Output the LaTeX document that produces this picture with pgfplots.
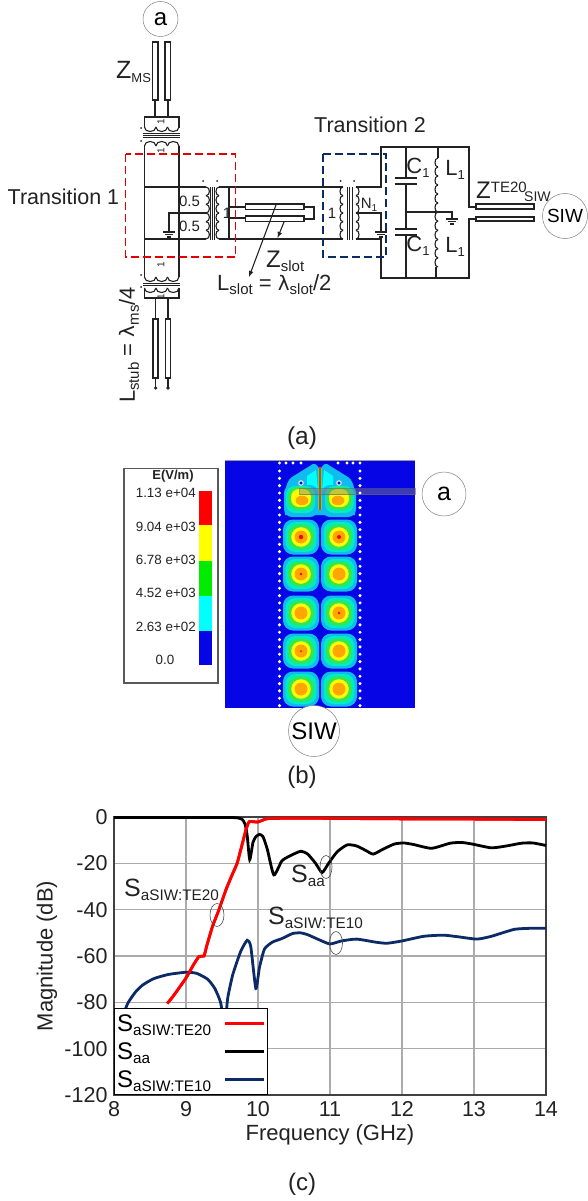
\documentclass[border=0pt]{standalone}
\usepackage{pgfplots}
\usepackage{pgfplotstable}
\usepackage{fontspec}
\setmainfont{Liberation Sans}
\pgfplotsset{compat=1.18}
\newcommand\fs[1]{\fontsize{#1}{#1}\selectfont}
\newcommand\SUB[3]{{\fs{#1}#2}\raisebox{-4pt}{\fs{15.3}#3}}
\definecolor{nvy}{HTML}{0B2A66}
\definecolor{ink}{HTML}{222222}
\pgfplotstableread{
x y
8.74 -80.5
8.83 -77
9.00 -69.5
9.10 -64
9.18 -60.2
9.25 -60
9.29 -55.4
9.37 -47
9.44 -41.5
9.48 -38
9.56 -31
9.64 -25
9.71 -20
9.77 -13
9.83 -5.8
9.86 -3
9.88 -2
9.93 -2
9.99 -2.2
10.05 -1.6
10.13 -0.7
10.5 -0.5
11 -0.6
12 -0.8
13 -0.9
14 -1.1
}\tred
\pgfplotstableread{
x y
8 -0.2
9 -0.2
9.6 -0.2
9.72 -0.4
9.78 -1
9.82 -3
9.85 -8
9.885 -18.4
9.93 -11
9.97 -8.5
10.02 -7.5
10.07 -8.5
10.13 -14
10.22 -25
10.33 -19
10.43 -17
10.59 -14.8
10.69 -16
10.8 -20
10.89 -24
10.98 -20
11.1 -15
11.24 -12
11.37 -12.5
11.5 -14.5
11.6 -16
11.73 -14
11.89 -11.7
12.02 -11.2
12.15 -11.8
12.41 -13.5
12.67 -11.3
12.83 -11
12.98 -11.7
13.24 -13.3
13.45 -12.5
13.66 -11.3
13.82 -11.2
14 -12.3
}\tblack
\pgfplotstableread{
x y
8.1 -88
8.19 -80.5
8.3 -75.5
8.4 -72.5
8.55 -69.8
8.75 -68
9.0 -67
9.15 -67.5
9.3 -70
9.4 -74
9.48 -80
9.52 -88
9.54 -95
9.56 -85
9.58 -78
9.65 -68
9.76 -58
9.85 -53.2
9.9 -56
9.97 -74
10.02 -65
10.09 -57
10.2 -54
10.33 -52.5
10.48 -50.3
10.59 -50
10.69 -50.8
10.85 -53
11 -54.8
11.16 -53.5
11.37 -52.7
11.63 -54
11.79 -54.5
12 -53.5
12.3 -51.5
12.57 -51
12.78 -51.7
13.04 -52.7
13.24 -51.5
13.56 -48.5
13.82 -48
14 -48
}\tblue
% schematic helpers
\newcommand\hcoil[5]{\pgfmathsetmacro\dd{(#2-#1)/#4}\foreach \i in {1,...,#4}{\pgfmathsetmacro\aa{#1+(\i-1)*\dd}\pgfmathsetmacro\ee{\aa+\dd}\draw (\aa,#3) .. controls (\aa,#3+#5) and (\ee,#3+#5) .. (\ee,#3);}}
\newcommand\vcoil[5]{\pgfmathsetmacro\dd{(#2-#1)/#4}\foreach \i in {1,...,#4}{\pgfmathsetmacro\aa{#1+(\i-1)*\dd}\pgfmathsetmacro\ee{\aa+\dd}\draw (#3,\aa) .. controls (#3+#5,\aa) and (#3+#5,\ee) .. (#3,\ee);}}
\newcommand\gnd[2]{\draw (#1-6,#2) -- (#1+6,#2) (#1-4,#2+2.5) -- (#1+4,#2+2.5) (#1-2,#2+5) -- (#1+2,#2+5);}
\newcommand\cell[2]{%
\fill[cell1,rounded corners=10pt] (#1-18,#2-17.5) rectangle (#1+18,#2+17.5);
\fill[cell2,rounded corners=10pt] (#1-15.5,#2-15) rectangle (#1+15.5,#2+15);
\fill[cell3,rounded corners=10pt] (#1-13,#2-12.5) rectangle (#1+13,#2+12.5);
\fill[cell4] (#1,#2) circle (9.8);
\fill[cell5] (#1,#2) circle (6.5);}
\definecolor{cell1}{HTML}{10BCEE}
\definecolor{cell2}{HTML}{00EBC8}
\definecolor{cell3}{HTML}{30E850}
\definecolor{cell4}{HTML}{FFFF00}
\definecolor{cell5}{HTML}{FFA500}
\definecolor{fieldblue}{HTML}{0505E6}
\definecolor{pred}{RGB}{255,0,0}
\definecolor{pyellow}{RGB}{255,255,0}
\definecolor{pgreen}{RGB}{0,235,0}
\definecolor{pcyan}{RGB}{0,255,255}
\begin{document}
\begin{tikzpicture}
\useasboundingbox (0pt,0pt) rectangle (588pt,-1201pt);
%% ---------- (c) chart
\begin{axis}[at={(114pt,-1095pt)},anchor=south west,scale only axis,width=432pt,height=278pt,
 xmin=8,xmax=14,ymin=-120,ymax=0,clip=false,
 xtick={8,...,14},ytick={-120,-100,...,0},
 grid=major,major grid style={color=black!33,line width=1.4pt},
 major tick length=0pt,
 axis line style={color=black!75,line width=2.4pt},
 /pgf/number format/assume math mode=true,
 /pgf/number format/1000 sep={},
 ticklabel style={font=\fs{21.5},color=ink},
 xticklabel style={yshift=-3pt},yticklabel style={xshift=-3pt},
 xlabel={Frequency (GHz)},ylabel={Magnitude (dB)},
 every axis x label/.style={at={(rel axis cs:0.5,0)},yshift=-40pt,anchor=center,font=\fs{22},color=ink},
 every axis y label/.style={at={(rel axis cs:0,0.5)},xshift=-67pt,rotate=90,anchor=center,font=\fs{22},color=ink},
 legend plot pos=right,
 legend cell align=left,
 legend style={at={(rel axis cs:0,0)},anchor=south west,draw=black,line width=1.4pt,fill=white,
   font=\fs{24},inner xsep=2pt,inner ysep=1pt,row sep=0pt,
   nodes={inner sep=0.5pt,text height=22pt,text depth=5pt,text width=106pt,align=left}},
 legend image code/.code={\draw[#1,line width=2.6pt] (0pt,0pt) -- (39pt,0pt);},
]
\addplot[draw=red,line width=2.8pt,smooth,tension=0.25] table[x=x,y=y] {\tred};
\addlegendentry{\SUB{24}{S}{aSIW:TE20}}
\addplot[draw=black,line width=2.8pt,smooth,tension=0.35] table[x=x,y=y] {\tblack};
\addlegendentry{\SUB{24}{S}{aa}}
\addplot[draw=nvy,line width=2.8pt,smooth,tension=0.35] table[x=x,y=y] {\tblue};
\addlegendentry{\SUB{24}{S}{aSIW:TE10}}
\addplot[draw=red,line width=2.8pt,smooth,tension=0.25,forget plot] table[x=x,y=y] {\tred};
\end{axis}
\begin{scope}[x=1pt,y=-1pt]
\node[anchor=west,inner sep=0,color=ink] at (124,890) {\SUB{25}{S}{aSIW:TE20}};
\node[anchor=west,inner sep=0,color=ink] at (291,876) {\SUB{25}{S}{aa}};
\node[anchor=west,inner sep=0,color=ink] at (268,918) {\SUB{25}{S}{aSIW:TE10}};
\draw[black!70,line width=0.6pt] (217,915) ellipse [x radius=7,y radius=11.5];
\draw[black!70,line width=0.6pt] (326,867) ellipse [x radius=6,y radius=11.5];
\draw[black!70,line width=0.6pt] (336,943) ellipse [x radius=6.5,y radius=11.5];
\node[color=ink,font=\fs{24}] at (302,1184) {(c)};
%% ---------- (b) field
\node[color=ink,font=\fs{24}] at (302,777) {(b)};
\draw[black!65,line width=1.5pt] (124,468.5) rectangle (218,683);
\node[font=\bfseries\fs{13},color=ink] at (173,476) {E(V/m)};
\foreach \yy/\tt in {493/1.13 e+04,527/9.04 e+03,560/6.78 e+03,593/4.52 e+03,627/2.63 e+02}{\node[anchor=east,inner sep=0,font=\fs{13.4},color=ink] at (196,\yy) {\tt};}
\node[font=\fs{13.4},color=ink] at (165,660) {0.0};
\fill[pred] (199,491) rectangle (212,525);
\fill[pyellow] (199,525) rectangle (212,561);
\fill[pgreen] (199,561) rectangle (212,596);
\fill[pcyan] (199,596) rectangle (212,631);
\fill[fieldblue] (199,631) rectangle (212,665);
\fill[fieldblue] (225,460) rectangle (415,708);
\draw[black!40,line width=0.7pt] (225,460) -- (415,460);
% top of the field
\fill[cell1] (285,495) .. controls (286,484) and (288,480) .. (292,477) -- (313,464) .. controls (316,463) and (318,467) .. (319,468) -- (321,468) .. controls (322,467) and (324,463) .. (327,464) -- (348,477) .. controls (352,480) and (354,484) .. (355,495) -- (355,515) -- (285,515) -- cycle;
\fill[pcyan] (307,476) -- (316,470) -- (318,490) -- (307,490) -- cycle;
\fill[pcyan] (333,476) -- (324,470) -- (322,490) -- (333,490) -- cycle;
\fill[cell1,rounded corners=8pt] (284,485) rectangle (318,517);
\fill[cell1,rounded corners=8pt] (322,485) rectangle (356,517);
\fill[cell2,rounded corners=9pt] (286,486) rectangle (315,513);
\fill[cell2,rounded corners=9pt] (325,486) rectangle (354,513);
\fill[cell3,rounded corners=9pt] (288,487) rectangle (313,510);
\fill[cell3,rounded corners=9pt] (327,487) rectangle (352,510);
\fill[cell4,rounded corners=8pt] (291,489) rectangle (311,507);
\fill[cell4,rounded corners=8pt] (329,489) rectangle (349,507);
\fill[cell5] (302,500.5) ellipse [x radius=6.5,y radius=4.8];
\fill[cell5] (338,500.5) ellipse [x radius=6.5,y radius=4.8];
\foreach \yy in {537,574,613,651,689}{\cell{301}{\yy}\cell{339}{\yy}}
\fill[pred] (339,537) circle (2); \fill[pred] (301,537) circle (2.2);
\fill[pred] (301,574) circle (1.3); \fill[pred] (339,613) circle (1.3); \fill[pred] (301,651) circle (1);
\draw[pcyan!50!green,line width=3.2pt] (320,469) -- (320,510);
\draw[red!60!orange,line width=1.6pt] (320,467) -- (320,510);
\fill[black!50,opacity=0.45] (299.5,488.5) rectangle (415,494.5);
\draw[black!60,line width=0.5pt,opacity=0.6] (299.5,488.5) rectangle (415,494.5);
\foreach \xx in {279.5,286,293,301,338,347,353,360}{\fill[white] (\xx,463) circle (1.7);}
\foreach \nn in {0,...,32}{\fill[white] (279.5,471+\nn*7.33) circle (1.7);\fill[white] (360,471+\nn*7.33) circle (1.7);}
\draw[white,line width=1pt,fill=fieldblue] (301,483) circle (2.2);
\draw[white,line width=1pt,fill=fieldblue] (339,483) circle (2.2);
\draw[black!50,line width=0.5pt,fill=white] (444,494) circle (22);
\node[font=\fs{25}] at (444,494) {a};
\draw[black!50,line width=0.5pt,fill=white] (314,731) circle (25.5);
\node[font=\fs{24}] at (314,731) {SIW};
%% ---------- (a) schematic
\node[color=ink,font=\fs{24.5}] at (302,438) {(a)};
\draw[black!50,line width=0.5pt] (160.5,19) circle (17.5);
\node[font=\fs{24}] at (160.5,19) {a};
\begin{scope}[line width=1.1pt,color=ink]
% top stub
\draw (152.6,42) rectangle (158,100) (165,42) rectangle (170.6,100);
\draw (155,100) -- (155,117) (168,100) -- (168,117);
\draw (144.4,128) -- (144.4,117) -- (179,117) -- (179,128);
\hcoil{144.4}{179}{127}{3}{6}
\draw[line width=0.8pt] (143,133) -- (180,133) (143,135) -- (180,135) (143,137) -- (180,137);
\hcoil{144.4}{179}{146}{3}{-6}
\draw (144.4,146) -- (144.4,277) (179,146) -- (179,277);
% bottom transformer
\hcoil{144.4}{179}{277}{3}{6}
\draw[line width=0.8pt] (143,283) -- (180,283) (143,285) -- (180,285);
\hcoil{144.4}{179}{288}{3}{6}
\draw (144.4,288) -- (144.4,298) -- (179,298) -- (179,288);
\draw (155.6,298) -- (155.6,319) (168,298) -- (168,319);
\draw (153,319) rectangle (158,378) (165.5,319) rectangle (170.5,378);
\draw (155.6,378) -- (155.6,388) (168,378) -- (168,388);
\fill (155.6,388) circle (1.8) (168,388) circle (1.8);
% horizontal bus and middle transformer
\draw (144.4,187) -- (206,187) (144.4,239) -- (206,239);
\draw (169,232) -- (169,213) -- (206,213);
\gnd{169}{232}
\fill (179,187) circle (1.4) (179,213) circle (1.4) (179,239) circle (1.4);
\vcoil{187}{213}{206}{3}{4.5}
\vcoil{213}{239}{206}{3}{4.5}
\draw[line width=0.8pt] (210.5,187) -- (210.5,240) (212.5,187) -- (212.5,240) (214.5,187) -- (214.5,240);
\vcoil{187}{239}{219}{6}{-4}
\draw (219,187) -- (328,187) (219,239) -- (328,239);
\draw (229,187) -- (229,239);
\draw (229,207) -- (245.6,207) (229,218) -- (245.6,218);
\draw (245.6,204) rectangle (304,209.3) (245.6,216) rectangle (304,221.7);
\draw (304,207) -- (314,207) -- (314,219) -- (304,219);
% right transformer
\vcoil{187}{239}{343}{6}{-4}
\draw (328,187) -- (343,187) (328,239) -- (343,239);
\draw[line width=0.8pt] (347,187) -- (347,240) (349.5,187) -- (349.5,240) (352,187) -- (352,240);
\vcoil{187}{239}{356}{6}{4}
\draw (356,187) -- (381,187) -- (381,147) -- (469,147) -- (469,207) -- (476,207);
\draw (356,239) -- (381,239) -- (381,278) -- (469,278) -- (469,219) -- (476,219);
\draw (356,213) -- (381,213) -- (381,232);
\gnd{381}{232}
% LC
\draw (406,147) -- (406,178) (394.5,178) -- (417,178) (394.5,184) -- (417,184) (406,184) -- (406,212);
\draw (406,212) -- (452,212) -- (452,219);
\gnd{452}{219}
\draw (406,212) -- (406,229) (394.5,229) -- (417,229) (394.5,235) -- (417,235) (406,235) -- (406,278);
\draw (438,147) -- (438,158);
\vcoil{158}{212}{438}{6}{-4}
\vcoil{212}{267}{438}{6}{-4}
\draw (436,267) -- (436,278);
\draw (476,204) rectangle (534,209) (476,217) rectangle (534,221);
% arrows
\draw[-latex] (276,205) -- (249,277);
\draw[-latex] (284,222) -- (277.5,238);
\end{scope}
\draw[red!90!black,line width=1.2pt,dash pattern=on 8pt off 4pt] (125.6,154) rectangle (235.5,257);
\draw[nvy,line width=1.2pt,dash pattern=on 8pt off 4pt] (323,154) rectangle (386,257);
\foreach \xx/\yy in {141/128,141/141,141/275,141/287,203/181,217/181,340.5/181,354/181}{\fill[ink] (\xx,\yy) circle (1);}
\foreach \xx/\yy in {161/122,161/151,161/265,161/297}{\node[rotate=90,font=\fs{10},color=ink,inner sep=0] at (\xx,\yy) {1};}
\node[anchor=west,inner sep=0,color=ink] at (116,72) {\fs{25}Z\raisebox{-4pt}{\fs{13}MS}};
\node[anchor=west,inner sep=0,font=\fs{21.5},color=ink] at (7.5,197) {Transition 1};
\node[anchor=west,inner sep=0,font=\fs{21.5},color=ink] at (314,125) {Transition 2};
\node[font=\fs{15},color=ink,inner sep=0] at (189.5,201) {0.5};
\node[font=\fs{15},color=ink,inner sep=0] at (189.5,226) {0.5};
\node[font=\fs{15},color=ink,inner sep=0] at (227,213) {1};
\node[font=\fs{15},color=ink,inner sep=0] at (332,213) {1};
\node[color=ink,inner sep=0] at (369,205) {\fs{15}N\raisebox{-3pt}{\fs{10}1}};
\node[color=ink,inner sep=0] at (418,168) {\fs{22}C\raisebox{-4pt}{\fs{13}1}};
\node[color=ink,inner sep=0] at (455,170) {\fs{22}L\raisebox{-4pt}{\fs{13}1}};
\node[color=ink,inner sep=0] at (418,246) {\fs{22}C\raisebox{-4pt}{\fs{13}1}};
\node[color=ink,inner sep=0] at (455,247) {\fs{22}L\raisebox{-4pt}{\fs{13}1}};
\node[anchor=west,inner sep=0,color=ink] at (476,190) {\fs{24}Z\raisebox{6pt}{\fs{15}TE20}};
\node[anchor=west,inner sep=0,color=ink] at (524,197) {\fs{14}SIW};
\draw[black!50,line width=0.5pt,fill=white] (565,216) circle (22.5);
\node[font=\fs{19}] at (565,216) {SIW};
\node[anchor=west,inner sep=0,color=ink] at (266,261) {\fs{24}Z\raisebox{-4pt}{\fs{15}slot}};
\node[anchor=west,inner sep=0,color=ink] at (217,285) {\fs{22}L\raisebox{-4pt}{\fs{15}slot}\fs{22} = \fontspec{DejaVu Sans}\fs{20}λ\raisebox{-4pt}{\fontspec{Liberation Sans}\fs{15}slot}\fontspec{Liberation Sans}\fs{22}/2};
\node[rotate=90,color=ink,inner sep=0] at (129,345) {\fs{22}L\raisebox{-4pt}{\fs{15}stub}\fs{22} = \fontspec{DejaVu Sans}\fs{20}λ\raisebox{-4pt}{\fontspec{Liberation Sans}\fs{15}ms}\fontspec{Liberation Sans}\fs{22}/4};
\end{scope}
\end{tikzpicture}
\end{document}
